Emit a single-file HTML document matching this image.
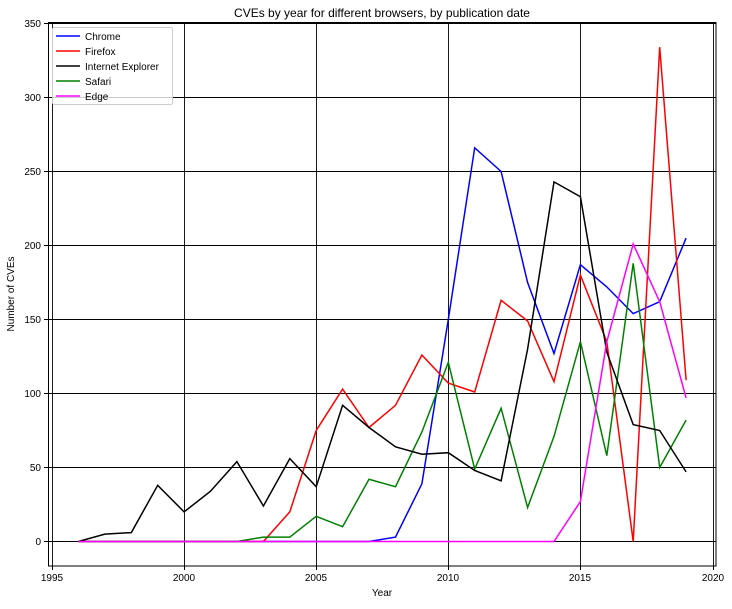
<!DOCTYPE html><html><head><style>body{margin:0;background:#fff}svg{font-family:"Liberation Sans",sans-serif}</style></head><body>
<svg id="s" width="732" height="604" xmlns="http://www.w3.org/2000/svg">
<rect width="732" height="604" fill="#fff"/>
<text x="382" y="17" font-size="12" text-anchor="middle">CVEs by year for different browsers, by publication date</text>
<g stroke="#000" stroke-width="0.9" id="grid">
<line x1="52.5" y1="22" x2="52.5" y2="566"/><line x1="184.5" y1="22" x2="184.5" y2="566"/><line x1="316.5" y1="22" x2="316.5" y2="566"/><line x1="448.5" y1="22" x2="448.5" y2="566"/><line x1="580.5" y1="22" x2="580.5" y2="566"/><line x1="713.5" y1="22" x2="713.5" y2="566"/>
<line x1="48" y1="541.5" x2="716" y2="541.5"/><line x1="48" y1="467.5" x2="716" y2="467.5"/><line x1="48" y1="393.5" x2="716" y2="393.5"/><line x1="48" y1="319.5" x2="716" y2="319.5"/><line x1="48" y1="245.5" x2="716" y2="245.5"/><line x1="48" y1="171.5" x2="716" y2="171.5"/><line x1="48" y1="97.5" x2="716" y2="97.5"/><line x1="48" y1="23.5" x2="716" y2="23.5"/>
</g>
<rect x="48.5" y="22.5" width="667.5" height="543.5" fill="none" stroke="#000" stroke-width="1"/>
<g font-size="10" text-anchor="end">
<text x="41" y="545">0</text><text x="41" y="471">50</text><text x="41" y="397">100</text><text x="41" y="323">150</text><text x="41" y="249">200</text><text x="41" y="175">250</text><text x="41" y="101">300</text><text x="41" y="27">350</text>
</g>
<g stroke="#000"><line x1="44" y1="541.5" x2="48" y2="541.5"/><line x1="44" y1="467.5" x2="48" y2="467.5"/><line x1="44" y1="393.5" x2="48" y2="393.5"/><line x1="44" y1="319.5" x2="48" y2="319.5"/><line x1="44" y1="245.5" x2="48" y2="245.5"/><line x1="44" y1="171.5" x2="48" y2="171.5"/><line x1="44" y1="97.5" x2="48" y2="97.5"/><line x1="44" y1="23.5" x2="48" y2="23.5"/>
<line x1="52.5" y1="566" x2="52.5" y2="570"/><line x1="184.5" y1="566" x2="184.5" y2="570"/><line x1="316.5" y1="566" x2="316.5" y2="570"/><line x1="448.5" y1="566" x2="448.5" y2="570"/><line x1="580.5" y1="566" x2="580.5" y2="570"/><line x1="713.5" y1="566" x2="713.5" y2="570"/></g>
<g font-size="10" text-anchor="middle">
<text x="52" y="581">1995</text><text x="184" y="581">2000</text><text x="316" y="581">2005</text><text x="448" y="581">2010</text><text x="580" y="581">2015</text><text x="713" y="581">2020</text>
<text x="382" y="596">Year</text>
<text transform="translate(14,294) rotate(-90)">Number of CVEs</text>
</g>
<g id="lines" fill="none" stroke-width="1.5"></g>
<rect x="52.5" y="27.5" width="120" height="77" rx="2" fill="#fff" fill-opacity="0.8" stroke="#ccc"/>
<g stroke-width="1.5">
<line x1="56" y1="36" x2="80" y2="36" stroke="#00f"/><line x1="56" y1="51" x2="80" y2="51" stroke="#f00"/><line x1="56" y1="66" x2="80" y2="66" stroke="#000"/><line x1="56" y1="81" x2="80" y2="81" stroke="#008000"/><line x1="56" y1="96" x2="80" y2="96" stroke="#f0f"/></g>
<g font-size="10"><text x="85" y="40">Chrome</text><text x="85" y="55">Firefox</text><text x="85" y="70">Internet Explorer</text><text x="85" y="85">Safari</text><text x="85" y="100">Edge</text></g>
</svg>
<script>
var z=Array(12).fill(0);
var D=[["#00f",z.concat([3,39,150,266,250,175,127,187,172,154,162,205])],
["#f00",z.slice(0,7).concat([0,20,75,103,77,92,126,107,101,163,149,108,180,135,0,334,109])],
["#008000",z.slice(0,7).concat([3,3,17,10,42,37,74,121,49,90,23,71,135,58,188,50,82])],
["#000",[0,5,6,38,20,34,54,24,56,37,92,77,64,59,60,48,41,130,243,233,128,79,75,47]],
["#f0f",z.concat([0,0,0,0,0,0,0,27,135,201,162,97])]];
var g=document.getElementById("lines"),h="";
D.forEach(function(d){var p=d[1].map(function(v,i){return (52+(i+1)*26.42).toFixed(1)+","+(541.5-1.48*v).toFixed(1)}).join(" ");
h+='<polyline stroke="'+d[0]+'" points="'+p+'"/>';});
g.innerHTML=h;
</script>
</body></html>
